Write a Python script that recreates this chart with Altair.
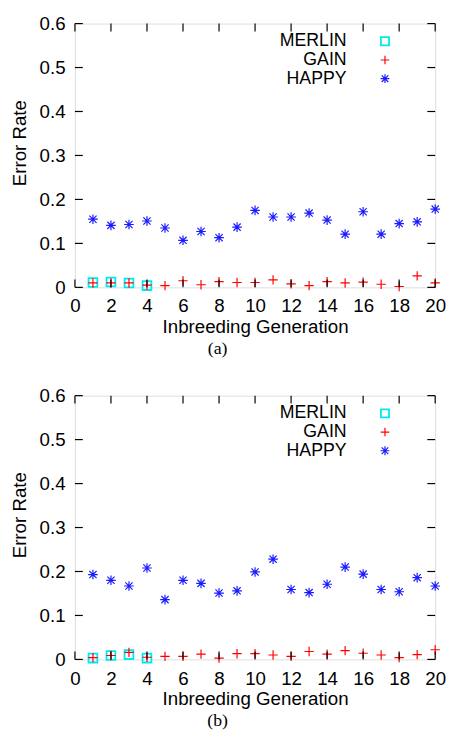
import altair as alt
import pandas as pd

generations = list(range(1, 21))
merlin_gens = [1, 2, 3, 4]

# Panel (a)
merlin_a = [0.011, 0.012, 0.010, 0.004]
gain_a = [0.010, 0.010, 0.010, 0.005, 0.004, 0.015, 0.006, 0.013, 0.011, 0.011,
          0.017, 0.008, 0.004, 0.013, 0.010, 0.012, 0.007, 0.002, 0.026, 0.010]
happy_a = [0.155, 0.141, 0.143, 0.151, 0.135, 0.107, 0.127, 0.113, 0.137, 0.175,
           0.160, 0.160, 0.169, 0.153, 0.121, 0.172, 0.121, 0.145, 0.149, 0.178]

# Panel (b)
merlin_b = [0.003, 0.009, 0.011, 0.003]
gain_b = [0.004, 0.009, 0.016, 0.005, 0.007, 0.007, 0.012, 0.003, 0.013, 0.013,
          0.010, 0.007, 0.018, 0.012, 0.020, 0.014, 0.010, 0.004, 0.011, 0.022]
happy_b = [0.193, 0.180, 0.167, 0.208, 0.136, 0.180, 0.173, 0.151, 0.156, 0.199,
           0.228, 0.159, 0.152, 0.171, 0.210, 0.194, 0.159, 0.154, 0.186, 0.167]

series_names = ["MERLIN", "GAIN", "HAPPY"]
x_ticks = list(range(0, 21, 2))
y_ticks = [0, 0.1, 0.2, 0.3, 0.4, 0.5, 0.6]
captions = ["(a)", "(b)"]

W, H = 366, 268
TICK = 8
FONT = "Liberation Sans"
FS = 19

styles = {
    "MERLIN": dict(shape="square", color="#00e8f0", size=80, strokeWidth=1.8),
    "GAIN": dict(shape="M-1,0L1,0M0,-1L0,1", color="#ff0000", size=90, strokeWidth=1.2),
    "HAPPY": dict(shape="M-1,0L1,0M0,-1L0,1M-0.75,-0.75L0.75,0.75M-0.75,0.75L0.75,-0.75",
                  color="#1a1aff", size=95, strokeWidth=1.2),
}

xscale = alt.Scale(domain=[0, 20], nice=False)
yscale = alt.Scale(domain=[0, 0.6], nice=False)

xaxis = alt.Axis(values=x_ticks, format="d", title="Inbreeding Generation",
                 ticks=False, tickSize=0, domain=False, grid=False,
                 labelOverlap=False, labelFlush=False,
                 labelPadding=10, labelFontSize=FS, titleFontSize=FS,
                 labelFont=FONT, titleFont=FONT, titleFontWeight="normal",
                 titleY=40, titleBaseline="middle", labelColor="black",
                 titleColor="black")
yaxis = alt.Axis(values=y_ticks, format=".1~f", title="Error Rate",
                 ticks=False, tickSize=0, domain=False, grid=False,
                 labelOverlap=False, labelFlush=False,
                 labelPadding=10, labelFontSize=FS, titleFontSize=FS,
                 labelFont=FONT, titleFont=FONT, titleFontWeight="normal",
                 titleAngle=270, titleX=-56, titleY=121,
                 titleAlign="center", titleBaseline="middle",
                 labelColor="black", titleColor="black")


def panel(merlin, gain, happy, caption):
    df = pd.concat([
        pd.DataFrame({"gen": merlin_gens, "value": merlin, "series": "MERLIN"}),
        pd.DataFrame({"gen": generations, "value": gain, "series": "GAIN"}),
        pd.DataFrame({"gen": generations, "value": happy, "series": "HAPPY"}),
    ])
    legend_df = pd.DataFrame({"series": series_names})
    xt = pd.DataFrame({"gen": x_ticks})
    yt = pd.DataFrame({"value": y_ticks})

    xenc = alt.X("gen:Q", scale=xscale, axis=xaxis)
    yenc = alt.Y("value:Q", scale=yscale, axis=yaxis)

    layers = []
    for i, name in enumerate(series_names):
        st = styles[name]
        layers.append(
            alt.Chart(df).transform_filter(alt.datum.series == name)
            .mark_point(shape=st["shape"], filled=False, color=st["color"],
                        size=st["size"], strokeWidth=st["strokeWidth"], opacity=1)
            .encode(x=xenc, y=yenc)
        )
    # ticks (inward, on all four sides)
    layers.append(alt.Chart(xt).mark_rule(color="black", strokeWidth=1.2).encode(
        x=xenc, y=alt.value(H), y2=alt.value(H - TICK)))
    layers.append(alt.Chart(xt).mark_rule(color="black", strokeWidth=1.2).encode(
        x=xenc, y=alt.value(0), y2=alt.value(TICK)))
    layers.append(alt.Chart(yt).mark_rule(color="black", strokeWidth=1.2).encode(
        y=yenc, x=alt.value(0), x2=alt.value(TICK)))
    layers.append(alt.Chart(yt).mark_rule(color="black", strokeWidth=1.2).encode(
        y=yenc, x=alt.value(W), x2=alt.value(W - TICK)))
    # legend
    for i, name in enumerate(series_names):
        st = styles[name]
        layers.append(
            alt.Chart(legend_df).transform_filter(alt.datum.series == name)
            .mark_text(align="right", baseline="middle", font=FONT, fontSize=18, color="black")
            .encode(text="series:N", x=alt.value(276), y=alt.value(18 + 19 * i))
        )
        layers.append(
            alt.Chart(legend_df).transform_filter(alt.datum.series == name)
            .mark_point(shape=st["shape"], filled=False, color=st["color"],
                        size=st["size"] * 0.85, strokeWidth=st["strokeWidth"], opacity=1)
            .encode(x=alt.value(315), y=alt.value(18 + 19 * i))
        )
    return alt.layer(*layers).properties(
        width=W, height=H,
        title=alt.TitleParams(text=caption, orient="bottom", anchor="middle",
                              font="Liberation Serif", fontSize=18, fontWeight="normal",
                              dx=-38, offset=4, color="black"),
    )


chart = alt.vconcat(
    panel(merlin_a, gain_a, happy_a, captions[0]),
    panel(merlin_b, gain_b, happy_b, captions[1]),
    spacing=27,
).properties(
    padding={"left": 2, "top": 0, "right": 0, "bottom": 0},
).configure_view(stroke="black", strokeWidth=1.8).configure(background="white")

chart.save("out.html", embed_options={"renderer": "svg", "actions": False})
